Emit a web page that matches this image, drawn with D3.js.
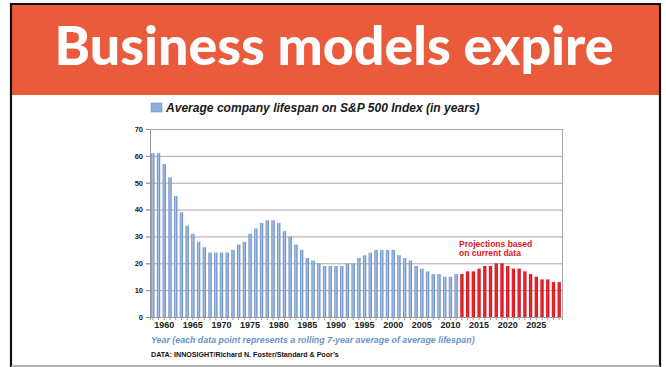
<!DOCTYPE html>
<html>
<head>
<meta charset="utf-8">
<script src="https://cdn.jsdelivr.net/npm/d3@7"></script>
<style>
  html, body { margin: 0; padding: 0; background: #fff; }
  svg { display: block; }
</style>
</head>
<body>
<svg id="chart" width="666" height="367"></svg>
<script>
// Average company lifespan on the S&P 500, rolling 7-year average (years)
const historicYears = d3.range(1958, 2012);
const historicValues = [
  61, 61, 57, 52, 45, 39, 34, 31, 28, 26,
  24, 24, 24, 24, 25, 27, 28, 31, 33, 35,
  36, 36, 35, 32, 30, 27, 25, 22, 21, 20,
  19, 19, 19, 19, 20, 20, 22, 23, 24, 25,
  25, 25, 25, 23, 22, 21, 19, 18, 17, 16,
  16, 15, 15, 16
];
const projectedYears = d3.range(2012, 2030);
const projectedValues = [
  16, 17, 17, 18, 19, 19, 20, 20, 19, 18,
  18, 17, 16, 15, 14, 14, 13, 13
];
const yTicks = [0, 10, 20, 30, 40, 50, 60, 70];
const xTickLabels = [1960, 1965, 1970, 1975, 1980, 1985, 1990, 1995, 2000, 2005, 2010, 2015, 2020, 2025];

const headline = "Business models expire";
const chartTitle = "Average company lifespan on S&P 500 Index (in years)";
const xAxisTitle = "Year (each data point represents a rolling 7-year average of average lifespan)";
const sourceNote = "DATA: INNOSIGHT/Richard N. Foster/Standard & Poor\u2019s";
const projectionNote = ["Projections based", "on current data"];

const bars = historicYears.map((y, i) => ({ year: y, value: historicValues[i], projected: false }))
  .concat(projectedYears.map((y, i) => ({ year: y, value: projectedValues[i], projected: true })));

const svg = d3.select("#chart");
const defs = svg.append("defs");

const blueGrad = defs.append("linearGradient").attr("id", "blueBar")
  .attr("x1", "0%").attr("x2", "100%").attr("y1", "0%").attr("y2", "0%");
blueGrad.append("stop").attr("offset", "0%").attr("stop-color", "#6287c0");
blueGrad.append("stop").attr("offset", "45%").attr("stop-color", "#a9c3e6");
blueGrad.append("stop").attr("offset", "100%").attr("stop-color", "#5a80ba");

const redGrad = defs.append("linearGradient").attr("id", "redBar")
  .attr("x1", "0%").attr("x2", "100%").attr("y1", "0%").attr("y2", "0%");
redGrad.append("stop").attr("offset", "0%").attr("stop-color", "#d3101c");
redGrad.append("stop").attr("offset", "45%").attr("stop-color", "#ee2a30");
redGrad.append("stop").attr("offset", "100%").attr("stop-color", "#c70d18");

// Slide frame and headline banner
svg.append("rect").attr("x", 11).attr("y", 4).attr("width", 649).attr("height", 362)
  .attr("fill", "#fff");
svg.append("rect").attr("x", 11).attr("y", 4).attr("width", 649).attr("height", 91)
  .attr("fill", "#ea5b3c");
svg.append("line").attr("x1", 11).attr("x2", 660).attr("y1", 4).attr("y2", 4)
  .attr("stroke", "#111").attr("stroke-width", 2);
svg.append("line").attr("x1", 11).attr("x2", 11).attr("y1", 3).attr("y2", 367)
  .attr("stroke", "#111").attr("stroke-width", 2.2);
svg.append("line").attr("x1", 660).attr("x2", 660).attr("y1", 3).attr("y2", 367)
  .attr("stroke", "#111").attr("stroke-width", 2.2);
svg.append("line").attr("x1", 11).attr("x2", 660).attr("y1", 366).attr("y2", 366)
  .attr("stroke", "#999").attr("stroke-width", 1.5);

const head = svg.append("text")
  .attr("x", 334).attr("y", 65)
  .attr("text-anchor", "middle")
  .attr("fill", "#fff")
  .style("font-family", "Lato, 'Open Sans', sans-serif")
  .style("font-weight", 900)
  .style("font-size", "48px")
  .text(headline);
{
  const w = head.node().getComputedTextLength();
  head.style("font-size", (48 * 559 / w).toFixed(2) + "px");
}

// Plot area
const margin = { left: 150, right: 562, top: 129, bottom: 317 };

const x = d3.scaleBand()
  .domain(bars.map(d => d.year))
  .range([margin.left, margin.right])
  .paddingInner(0.42)
  .paddingOuter(0.2);

const y = d3.scaleLinear()
  .domain([0, 70])
  .range([margin.bottom, margin.top]);

// Gridlines
svg.append("g")
  .selectAll("line")
  .data(yTicks)
  .join("line")
  .attr("x1", margin.left - 4)
  .attr("x2", margin.right)
  .attr("y1", d => y(d) + 0.5)
  .attr("y2", d => y(d) + 0.5)
  .attr("stroke", "#a8a8a8")
  .attr("stroke-width", 1);

svg.append("line")
  .attr("x1", margin.right + 0.5).attr("x2", margin.right + 0.5)
  .attr("y1", margin.top).attr("y2", margin.bottom)
  .attr("stroke", "#a8a8a8");

// Bars
svg.append("g")
  .selectAll("rect")
  .data(bars)
  .join("rect")
  .attr("x", d => x(d.year))
  .attr("width", x.bandwidth())
  .attr("y", d => y(d.value))
  .attr("height", d => y(0) - y(d.value))
  .attr("fill", d => d.projected ? "url(#redBar)" : "url(#blueBar)");

// Y axis
const yAxis = svg.append("g")
  .attr("transform", `translate(${margin.left},0)`)
  .call(d3.axisLeft(y).tickValues(yTicks).tickSize(4).tickPadding(3));
yAxis.select(".domain").attr("stroke", "#999");
yAxis.selectAll(".tick line").attr("stroke", "#999");
yAxis.selectAll("text")
  .style("font-family", "'Liberation Sans', Arial, sans-serif")
  .style("font-weight", 700)
  .style("font-size", "7.5px")
  .attr("fill", "#222");

// X axis: a small tick for every year, labels every five years
const xMinor = svg.append("g")
  .attr("transform", `translate(0,${margin.bottom})`)
  .call(d3.axisBottom(x).tickSize(3).tickFormat(""));
xMinor.select(".domain").attr("stroke", "#999");
xMinor.selectAll(".tick line").attr("stroke", "#999");

const xAxis = svg.append("g")
  .attr("transform", `translate(0,${margin.bottom})`)
  .call(d3.axisBottom(x).tickValues(xTickLabels).tickSize(0).tickPadding(5));
xAxis.select(".domain").remove();
xAxis.selectAll("text")
  .style("font-family", "'Liberation Sans', Arial, sans-serif")
  .style("font-weight", 700)
  .style("font-size", "9px")
  .attr("fill", "#222");

// Chart title with legend swatch
svg.append("rect")
  .attr("x", 151).attr("y", 103).attr("width", 11).attr("height", 9)
  .attr("fill", "#8db0e0")
  .attr("stroke", "#6f94c9")
  .attr("stroke-width", 0.6);
const ttl = svg.append("text")
  .attr("x", 166).attr("y", 112)
  .attr("fill", "#1a1a1a")
  .style("font-family", "'Liberation Sans', Arial, sans-serif")
  .style("font-weight", 700)
  .style("font-style", "italic")
  .style("font-size", "12px")
  .text(chartTitle);
{
  const w = ttl.node().getComputedTextLength();
  ttl.style("font-size", (12 * 314 / w).toFixed(2) + "px");
}

// Projection note
const note = svg.append("text")
  .attr("fill", "#e0141e")
  .style("font-family", "'Liberation Sans', Arial, sans-serif")
  .style("font-weight", 700)
  .style("font-size", "8.5px");
note.selectAll("tspan")
  .data(projectionNote)
  .join("tspan")
  .attr("x", 459)
  .attr("y", (d, i) => 247 + i * 8.5)
  .text(d => d);

// Axis title and source
const xt = svg.append("text")
  .attr("x", 151).attr("y", 343)
  .attr("fill", "#6a93c9")
  .style("font-family", "'Liberation Sans', Arial, sans-serif")
  .style("font-weight", 700)
  .style("font-style", "italic")
  .style("font-size", "9px")
  .text(xAxisTitle);
{
  const w = xt.node().getComputedTextLength();
  xt.style("font-size", (9 * 324 / w).toFixed(2) + "px");
}

const src = svg.append("text")
  .attr("x", 151).attr("y", 357)
  .attr("fill", "#111")
  .style("font-family", "'Liberation Sans', Arial, sans-serif")
  .style("font-weight", 700)
  .style("font-size", "7px")
  .text(sourceNote);
{
  const w = src.node().getComputedTextLength();
  src.style("font-size", (7 * 188 / w).toFixed(2) + "px");
}
</script>
</body>
</html>
